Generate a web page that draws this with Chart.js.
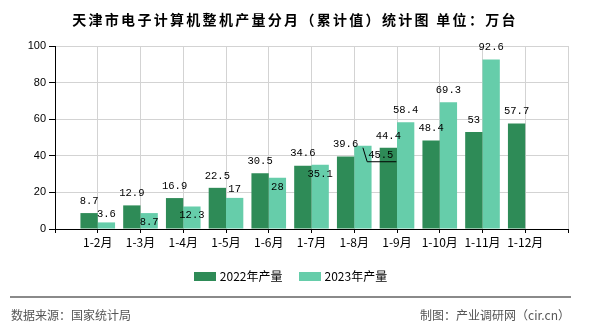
<!DOCTYPE html>
<html>
<head>
<meta charset="utf-8">
<script src="https://cdn.jsdelivr.net/npm/chart.js@4/dist/chart.umd.min.js"></script>
<style>
  html, body { margin: 0; padding: 0; background: #fff; }
  #wrap { position: relative; width: 590px; height: 330px; overflow: hidden; font-family: "Noto Sans CJK SC", sans-serif; }
  #c { position: absolute; left: 0; top: 0; }
  #title { position: absolute; left: 0; top: 9px; width: 590px; text-align: center; font-weight: bold; font-size: 14px; line-height: 20px; letter-spacing: 2.3px; color: #000; white-space: nowrap; }
  #legend { position: absolute; left: 0; top: 267px; width: 581px; display: flex; justify-content: center; align-items: center; font-size: 12px; line-height: 18px; color: #000; }
  .li { display: flex; align-items: center; margin: 0 8px; }
  .sw { width: 22px; height: 9px; margin-right: 4px; }
  #rule { position: absolute; left: 10px; top: 296px; width: 561px; height: 0; border-top: 2px solid #8a8a8a; }
  #src { position: absolute; left: 11px; top: 306px; font-size: 12px; line-height: 18px; color: #555; white-space: nowrap; }
  #maker { position: absolute; right: 20px; top: 306px; font-size: 12px; line-height: 18px; color: #555; white-space: nowrap; }
</style>
</head>
<body>
<div id="wrap">
  <canvas id="c" width="590" height="330"></canvas>
  <div id="title">天津市电子计算机整机产量分月（累计值）统计图 单位：万台</div>
  <div id="legend"></div>
  <div id="rule"></div>
  <div id="src">数据来源：国家统计局</div>
  <div id="maker">制图：产业调研网（cir.cn）</div>
</div>
<script>
// ---- data ----
const categories = ['1-2月', '1-3月', '1-4月', '1-5月', '1-6月', '1-7月', '1-8月', '1-9月', '1-10月', '1-11月', '1-12月'];
const series2022 = [8.7, 12.9, 16.9, 22.5, 30.5, 34.6, 39.6, 44.4, 48.4, 53, 57.7];
const series2023 = [3.6, 8.7, 12.3, 17, 28, 35.1, 45.5, 58.4, 69.3, 92.6, null];
const seriesNames = ['2022年产量', '2023年产量'];
const seriesColors = ['#2e8b57', '#66cdaa'];
const yTicks = [0, 20, 40, 60, 80, 100];

// category axis with an empty slot at each end (as in the reference)
const labels = [''].concat(categories, ['']);
const pad = (arr) => [null].concat(arr, [null]);

const barLabels = {
  id: 'barLabels',
  afterDatasetsDraw(chart) {
    const ctx = chart.ctx;
    ctx.save();
    ctx.font = '10.5px "Liberation Mono", monospace';
    ctx.fillStyle = '#000';
    ctx.textAlign = 'center';
    ctx.textBaseline = 'middle';
    const H = 12;
    const box = (cx, cy, w) => ({ l: cx - w / 2, r: cx + w / 2, t: cy - H / 2, b: cy + H / 2, cx, cy, w });
    const hov = (a, b) => Math.min(a.r, b.r) - Math.max(a.l, b.l);
    const vov = (a, b) => Math.min(a.b, b.b) - Math.max(a.t, b.t);
    const hit = (a, b) => hov(a, b) > 0 && vov(a, b) > 0;
    const placed = [];
    const out = [];
    // first series: above the bar
    const m0 = chart.getDatasetMeta(0);
    m0.data.forEach((bar, i) => {
      const v = chart.data.datasets[0].data[i];
      if (v == null) return;
      const txt = String(v);
      const b = box(bar.x, bar.y - 12.5, ctx.measureText(txt).width);
      b.txt = txt; placed.push(b); out.push(b);
    });
    // second series: above, nudged down, inside, or shifted right
    const m1 = chart.getDatasetMeta(1);
    m1.data.forEach((bar, i) => {
      const v = chart.data.datasets[1].data[i];
      if (v == null) return;
      const txt = String(v);
      const w = ctx.measureText(txt).width;
      let b = box(bar.x, bar.y - 12.5, w);
      let hits = placed.filter(p => hit(p, b));
      let done = hits.length === 0;
      if (!done) {
        const mh = Math.max(...hits.map(p => hov(p, b)));
        if (mh < 3) {
          const cy = Math.max(...hits.map(p => p.cy + 13));
          if (cy <= bar.y - 7) { b = box(bar.x, cy, w); done = true; }
        }
      }
      if (!done) {
        b = box(bar.x, bar.y + 8.5, w);
        hits = placed.filter(p => hit(p, b));
        if (hits.length) {
          const left = Math.max(...hits.map(p => p.r)) + 10;
          b = box(left + w / 2, bar.y + 8.5, w);
          b.leader = { x: bar.x, y: bar.y + 2 };
        }
      }
      b.txt = txt; placed.push(b); out.push(b);
    });
    out.forEach(b => {
      if (b.leader) {
        ctx.strokeStyle = '#000';
        ctx.lineWidth = 1;
        ctx.beginPath();
        ctx.moveTo(b.leader.x, b.leader.y);
        ctx.lineTo(b.l - 1, b.b + 1.5);
        ctx.lineTo(b.r + 3, b.b + 1.5);
        ctx.stroke();
      }
      ctx.fillText(b.txt, b.cx, b.cy + 0.5);
    });
    ctx.restore();
  }
};

const chart = new Chart(document.getElementById('c'), {
  type: 'bar',
  data: {
    labels: labels,
    datasets: [
      { label: seriesNames[0], data: pad(series2022), backgroundColor: seriesColors[0] },
      { label: seriesNames[1], data: pad(series2023), backgroundColor: seriesColors[1] }
    ]
  },
  options: {
    responsive: false,
    animation: false,
    devicePixelRatio: 1,
    categoryPercentage: 0.81,
    barPercentage: 1.0,
    layout: { padding: { top: 46, right: 22, left: 0, bottom: 0 } },
    plugins: { legend: { display: false }, title: { display: false }, tooltip: { enabled: false } },
    scales: {
      x: {
        offset: false,
        grid: { offset: false, color: '#d3d3d3', tickColor: '#000', tickLength: 4, lineWidth: 1 },
        border: { color: '#000', width: 1 },
        ticks: { autoSkip: false, maxRotation: 0, padding: 2, color: '#000', font: { family: '"Noto Sans CJK SC"', size: 12 } },
        afterFit: (s) => { s.height = 101; }
      },
      y: {
        min: 0, max: 100,
        afterBuildTicks: (s) => { s.ticks = yTicks.map(v => ({ value: v })); },
        grid: { color: '#d3d3d3', tickColor: '#000', tickLength: 6, lineWidth: 1 },
        border: { color: '#000', width: 1 },
        ticks: { padding: 3, color: '#000', font: { family: '"Liberation Sans"', size: 11 } },
        afterFit: (s) => { s.width = 55; }
      }
    }
  },
  plugins: [barLabels]
});

// legend built from the datasets
const lg = document.getElementById('legend');
chart.data.datasets.forEach(ds => {
  const it = document.createElement('div'); it.className = 'li';
  const sw = document.createElement('div'); sw.className = 'sw'; sw.style.background = ds.backgroundColor;
  const tx = document.createElement('span'); tx.textContent = ds.label;
  it.appendChild(sw); it.appendChild(tx); lg.appendChild(it);
});
</script>
</body>
</html>
